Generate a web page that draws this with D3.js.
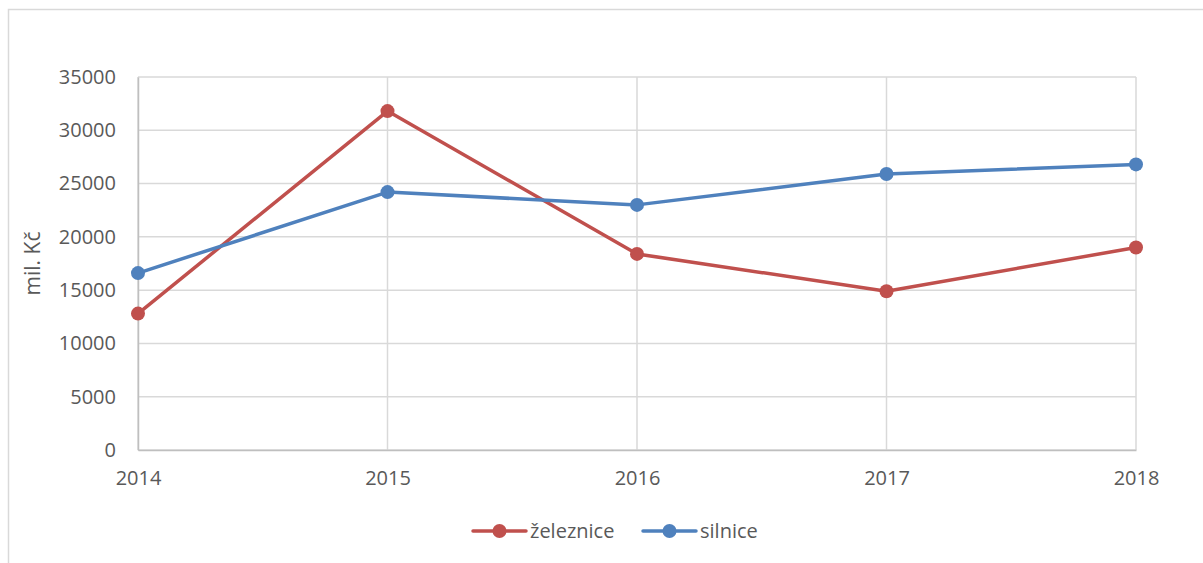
<!DOCTYPE html>
<html>
<head>
<meta charset="utf-8">
<script src="https://cdn.jsdelivr.net/npm/d3@7"></script>
<style>
  body { margin: 0; background: #fff; }
  svg text { font-family: "Open Sans", "Liberation Sans", sans-serif; fill: #595959; }
</style>
</head>
<body>
<svg id="chart"></svg>
<script>
const years = [2014, 2015, 2016, 2017, 2018];
const zeleznice = [12800, 31800, 18400, 14900, 19000];
const silnice = [16600, 24200, 23000, 25900, 26800];
const yTicks = [0, 5000, 10000, 15000, 20000, 25000, 30000, 35000];

const width = 1203;
const height = 563;
const margin = {left: 138, right: 67, top: 77, bottom: 113};

let svg = d3.select('#chart')
    .attr("width", width)
    .attr("height", height);

// outer frame (only left and top visible)
svg.append("rect")
    .attr("x", 8.5).attr("y", 9.5)
    .attr("width", 1300).attr("height", 700)
    .attr("fill", "none")
    .attr("stroke", "#d9d9d9")
    .attr("stroke-width", 1.5);

let xScale = d3.scalePoint()
    .domain(years)
    .range([margin.left, width - margin.right]);

let yScale = d3.scaleLinear()
    .domain([0, 35000])
    .range([height - margin.bottom, margin.top]);

// horizontal grid
svg.append("g")
    .selectAll("line")
    .data(yTicks)
    .join("line")
    .attr("x1", margin.left).attr("x2", width - margin.right)
    .attr("y1", d => yScale(d)).attr("y2", d => yScale(d))
    .attr("stroke", "#d9d9d9").attr("stroke-width", 1.5);

// vertical grid
svg.append("g")
    .selectAll("line")
    .data(years)
    .join("line")
    .attr("x1", d => xScale(d)).attr("x2", d => xScale(d))
    .attr("y1", margin.top).attr("y2", height - margin.bottom)
    .attr("stroke", "#d9d9d9").attr("stroke-width", 1.5);

// y axis
let yAxis = d3.axisLeft(yScale).tickValues(yTicks).tickSize(0).tickPadding(22)
    .tickFormat(d3.format("d"));
svg.append("g")
    .attr("transform", "translate(" + margin.left + ",0)")
    .call(yAxis)
    .call(g => g.select(".domain").attr("stroke", "#bfbfbf").attr("stroke-width", 1.5))
    .selectAll("text")
    .style("font-size", "20px");

// x axis
let xAxis = d3.axisBottom(xScale).tickSize(0).tickPadding(21).tickFormat(d3.format("d"));
svg.append("g")
    .attr("transform", "translate(0," + (height - margin.bottom) + ")")
    .call(xAxis)
    .call(g => g.select(".domain").attr("stroke", "#bfbfbf").attr("stroke-width", 1.5))
    .selectAll("text")
    .style("font-size", "20px");

// y label
svg.append("text")
    .attr("text-anchor", "middle")
    .attr("transform", "translate(40," + yScale(17500) + ") rotate(-90)")
    .style("font-size", "21px")
    .text("mil. Kč");

const series = [
    {name: "železnice", values: zeleznice, color: "#c0504d"},
    {name: "silnice", values: silnice, color: "#4f81bd"}
];

let line = d3.line()
    .x((d, i) => xScale(years[i]))
    .y(d => yScale(d));

series.forEach(s => {
    svg.append("path")
        .datum(s.values)
        .attr("d", line)
        .attr("fill", "none")
        .attr("stroke", s.color)
        .attr("stroke-width", 3.5)
        .attr("stroke-linejoin", "round");
    svg.append("g")
        .selectAll("circle")
        .data(s.values)
        .join("circle")
        .attr("cx", (d, i) => xScale(years[i]))
        .attr("cy", d => yScale(d))
        .attr("r", 7)
        .attr("fill", s.color);
});

// legend
const legendX = [473, 643];
let legend = svg.append("g");
series.forEach((s, i) => {
    let g = legend.append("g").attr("transform", "translate(" + legendX[i] + ",531)");
    g.append("line")
        .attr("x1", 0).attr("x2", 53)
        .attr("stroke", s.color).attr("stroke-width", 3.5).attr("stroke-linecap", "round");
    g.append("circle").attr("cx", 26.5).attr("r", 7).attr("fill", s.color);
    g.append("text")
        .attr("x", 57).attr("dy", "0.35em")
        .style("font-size", "20px")
        .text(s.name);
});
</script>
</body>
</html>
